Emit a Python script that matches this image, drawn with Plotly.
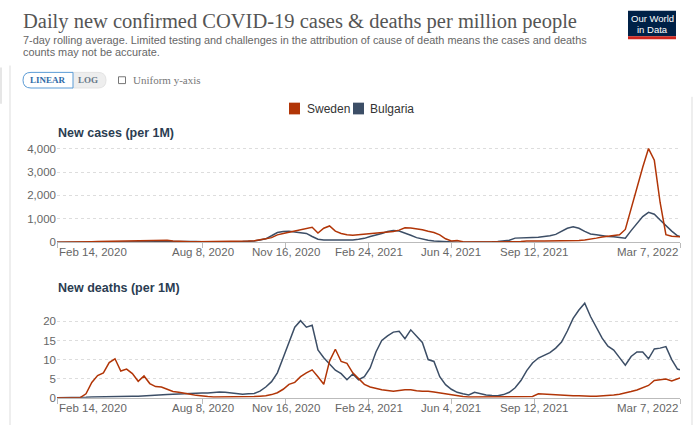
import pandas as pd
import plotly.graph_objects as go

# ---------------- data (weekly readings, Feb 14 2020 .. Mar 7 2022) ----------------
dates = list(pd.date_range("2020-02-14", periods=108, freq="7D").strftime("%Y-%m-%d")) + ["2022-03-07"]

cases_sweden = [
    0, 0, 0, 2, 10,
    20, 30, 40, 45, 50,
    55, 60, 60, 65, 75, 90, 100, 110, 105, 90,
    60, 40, 30, 25, 25, 25, 25, 25, 25, 25,
    30, 35, 45, 55, 70,
    100, 150, 200, 320, 380, 430, 480, 520, 580, 640,
    400, 600, 700, 480, 380, 320, 300, 320, 340, 370,
    390, 420, 440, 460, 520, 620, 610, 590, 540, 470,
    420, 320, 150, 60, 80,
    30, 15, 12, 10, 10, 12, 15, 20, 25, 30,
    35, 60, 70, 60, 55, 55, 55, 60, 60, 70,
    80, 100, 130, 180, 230, 260, 290, 320, 550, 1450,
    2400, 3200, 4000, 3500, 1700, 330, 260, 230, 240,
]
cases_bulgaria = [
    0, 0, 0, 0, 0,
    5, 8, 10, 12, 12, 12, 15, 15, 15, 15,
    15, 20, 25, 30, 35, 40, 45, 45, 40, 35,
    30, 25, 25, 25, 30, 30, 30, 35, 40, 60,
    100, 150, 280, 420, 460, 470, 440, 400, 380, 250,
    130, 100, 100, 80, 70, 70, 100, 130, 170, 250,
    300, 380, 460, 500, 480, 400, 300, 200, 130, 90,
    60, 40, 20, 10, 8, 6, 6, 8, 10, 15,
    25, 40, 60, 90, 180, 200, 190, 210, 220, 240,
    280, 340, 460, 600, 660, 600, 470, 360, 320, 280,
    250, 240, 200, 180, 500, 780, 1100, 1280, 1200, 950,
    700, 480, 280, 250,
]
deaths_sweden = [
    0, 0, 0, 0, 0,
    1.0, 4.0, 5.8, 6.5, 9.2, 10.2, 7.0, 7.5, 6.3, 4.3,
    5.7, 3.7, 2.9, 2.8, 2.2, 1.6, 1.4, 1.2, 0.9, 0.6,
    0.4, 0.3, 0.2, 0.2, 0.2, 0.2, 0.2, 0.2, 0.3, 0.3,
    0.4, 0.5, 0.8, 1.3, 2.2, 3.5, 4.0, 5.5, 6.5, 7.3,
    5.5, 3.5, 9.6, 12.7, 9.5, 9.0, 6.5, 5.0, 3.5, 2.8,
    2.4, 2.1, 1.9, 1.7, 1.9, 2.1, 2.1, 1.8, 1.7, 1.7,
    1.5, 1.25, 1.0, 0.8, 0.5, 0.3, 0.2, 0.2, 0.2, 0.15,
    0.15, 0.15, 0.2, 0.2, 0.2, 0.2, 0.25, 0.3, 1.0, 0.9,
    0.8, 0.7, 0.6, 0.5, 0.5, 0.5, 0.4, 0.4, 0.4, 0.45,
    0.5, 0.7, 0.9, 1.2, 1.6, 2.0, 2.6, 3.2, 4.5, 4.8,
    4.9, 4.4, 5.0, 5.2,
]
deaths_bulgaria = [
    0, 0, 0, 0, 0,
    0.1, 0.2, 0.25, 0.3, 0.3, 0.3, 0.35, 0.35, 0.4, 0.4,
    0.45, 0.5, 0.6, 0.7, 0.8, 0.9, 0.9, 1.0, 1.1, 1.2,
    1.25, 1.2, 1.3, 1.5, 1.4, 1.2, 1.0, 0.9, 1.0, 1.1,
    1.7, 2.8, 4.2, 6.5, 10.5, 14.5, 18.5, 20.2, 18.5, 19.0,
    12.5, 10.5, 8.8, 7.2, 6.3, 4.7, 6.2, 4.7, 5.5, 7.8,
    12.0, 15.0, 16.2, 17.2, 17.4, 15.5, 17.8, 16.0, 14.5, 10.0,
    9.5, 5.5, 3.4, 2.2, 1.4, 1.0, 0.7, 1.4, 1.0, 0.7,
    0.55, 0.5, 0.8, 1.4, 2.6, 4.5, 7.1, 9.1, 10.4, 11.0,
    11.8, 13.0, 14.6, 17.5, 20.8, 23.0, 24.8, 21.3, 18.6, 15.6,
    13.5, 12.5, 10.5, 8.5, 10.8, 12.0, 12.0, 10.2, 12.8, 13.0,
    13.4, 10.0, 7.5, 7.3,
]

x_tick_dates = ["2020-02-14", "2020-08-08", "2020-11-16", "2021-02-24",
                "2021-06-04", "2021-09-12", "2022-03-07"]
x_tick_labels = ["Feb 14, 2020", "Aug 8, 2020", "Nov 16, 2020", "Feb 24, 2021",
                 "Jun 4, 2021", "Sep 12, 2021", "Mar 7, 2022"]
cases_ticks = [0, 1000, 2000, 3000, 4000]
deaths_ticks = [0, 5, 10, 15, 20]

countries = ["Sweden", "Bulgaria"]
colors = {"Sweden": "#b13507", "Bulgaria": "#3c4e66"}

# ---------------- layout helpers ----------------
W, H = 700, 431
def px(x): return x / W
def py(y): return 1 - y / H

SANS = "Liberation Sans, Arial, sans-serif"
SERIF = "Liberation Serif, Times New Roman, serif"

fig = go.Figure()
series = {
    ("cases", "Sweden"): cases_sweden, ("cases", "Bulgaria"): cases_bulgaria,
    ("deaths", "Sweden"): deaths_sweden, ("deaths", "Bulgaria"): deaths_bulgaria,
}
for metric, xa, ya in [("cases", "x", "y"), ("deaths", "x2", "y2")]:
    for c in ["Bulgaria", "Sweden"]:
        fig.add_trace(go.Scatter(x=dates, y=series[(metric, c)], mode="lines",
                                 line=dict(color=colors[c], width=1.5),
                                 xaxis=xa, yaxis=ya, showlegend=False, name=c))

xdom = [px(57), px(680)]
common_x = dict(type="date", range=["2020-02-14", "2022-03-07"], domain=xdom,
                tickvals=x_tick_dates, showticklabels=False, ticks="outside",
                ticklen=5, tickcolor="#bbbbbb", showline=True, linecolor="#bbbbbb",
                linewidth=1, showgrid=False, zeroline=False)
common_y = dict(showgrid=True, gridcolor="#dddddd", griddash="3px,3px", gridwidth=1,
                zeroline=False, showline=False, ticks="",
                tickfont=dict(family=SANS, size=11.5, color="#666666"))

fig.update_layout(
    width=W, height=H, margin=dict(l=0, r=0, t=0, b=0),
    paper_bgcolor="white", plot_bgcolor="white", showlegend=False,
    xaxis=dict(common_x, anchor="y"),
    yaxis=dict(common_y, domain=[py(244), py(244 - 4100 * 0.024)], range=[0, 4100],
               tickvals=cases_ticks, ticktext=[f"{v:,}" for v in cases_ticks], anchor="x"),
    xaxis2=dict(common_x, anchor="y2"),
    yaxis2=dict(common_y, domain=[py(403), py(403 - 25.5 * 3.9)], range=[0, 25.5],
                tickvals=deaths_ticks, ticktext=[str(v) for v in deaths_ticks], anchor="x2"),
)

ann = []
# x tick labels
for xref, yl in [("x", 254), ("x2", 414)]:
    for i, (d, t) in enumerate(zip(x_tick_dates, x_tick_labels)):
        anchor = "left" if i == 0 else ("right" if i == len(x_tick_dates) - 1 else "center")
        ann.append(dict(x=d, y=py(yl), xref=xref, yref="paper", text=t, showarrow=False,
                        xanchor=anchor, yanchor="middle",
                        font=dict(family=SANS, size=11.5, color="#666666")))

# title & subtitle
ann.append(dict(x=px(21), y=py(18), xref="paper", yref="paper", xanchor="left", yanchor="middle",
                text="Daily new confirmed COVID-19 cases & deaths per million people", showarrow=False,
                font=dict(family=SERIF, size=20.5, color="#555555")))
ann.append(dict(x=px(21), y=py(37), xref="paper", yref="paper", xanchor="left", yanchor="middle",
                text="7-day rolling average. Limited testing and challenges in the attribution of cause of death means the cases and deaths",
                showarrow=False, font=dict(family=SANS, size=10.9, color="#666666")))
ann.append(dict(x=px(21), y=py(49), xref="paper", yref="paper", xanchor="left", yanchor="middle",
                text="counts may not be accurate.", showarrow=False,
                font=dict(family=SANS, size=10.9, color="#666666")))

# logo
ann.append(dict(x=px(652), y=py(15), xref="paper", yref="paper", xanchor="center", yanchor="middle",
                text="Our World", showarrow=False, font=dict(family=SANS, size=9.5, color="white")))
ann.append(dict(x=px(652), y=py(26), xref="paper", yref="paper", xanchor="center", yanchor="middle",
                text="in Data", showarrow=False, font=dict(family=SANS, size=9.5, color="white")))

# buttons
ann.append(dict(x=px(48), y=py(78), xref="paper", yref="paper", xanchor="center", yanchor="middle",
                text="<b>LINEAR</b>", showarrow=False, font=dict(family=SERIF, size=9, color="#2f6aa8")))
ann.append(dict(x=px(88), y=py(78), xref="paper", yref="paper", xanchor="center", yanchor="middle",
                text="<b>LOG</b>", showarrow=False, font=dict(family=SERIF, size=9, color="#667788")))
ann.append(dict(x=px(131), y=py(78), xref="paper", yref="paper", xanchor="left", yanchor="middle",
                text="Uniform y-axis", showarrow=False, font=dict(family=SERIF, size=11, color="#777777")))

# legend
leg = [("Sweden", 289, 305), ("Bulgaria", 353, 368)]
for name, sx, tx in leg:
    ann.append(dict(x=px(tx), y=py(107), xref="paper", yref="paper", xanchor="left", yanchor="middle",
                    text=name, showarrow=False, font=dict(family=SANS, size=12, color="#333333")))

# panel titles
ann.append(dict(x=px(56), y=py(132), xref="paper", yref="paper", xanchor="left", yanchor="middle",
                text="<b>New cases (per 1M)</b>", showarrow=False,
                font=dict(family=SANS, size=12.5, color="#2b3d52")))
ann.append(dict(x=px(56), y=py(291), xref="paper", yref="paper", xanchor="left", yanchor="middle",
                text="<b>New deaths (per 1M)</b>", showarrow=False,
                font=dict(family=SANS, size=12.5, color="#2b3d52")))

shapes = []
def rect(x0, y0, x1, y1, fill, line=None, lw=0):
    return dict(type="rect", xref="paper", yref="paper", x0=px(x0), x1=px(x1), y0=py(y1), y1=py(y0),
                fillcolor=fill, line=dict(color=line or fill, width=lw), layer="below")

def rounded(x0, y0, x1, y1, r, fill, line, lw, left=True, right=True):
    def P(x, y): return f"{px(x)},{py(y)}"
    d = ""
    d += f"M{P(x0 + r, y0)} " if left else f"M{P(x0, y0)} "
    if right:
        d += f"L{P(x1 - r, y0)} Q{P(x1, y0)} {P(x1, y0 + r)} L{P(x1, y1 - r)} Q{P(x1, y1)} {P(x1 - r, y1)} "
    else:
        d += f"L{P(x1, y0)} L{P(x1, y1)} "
    if left:
        d += f"L{P(x0 + r, y1)} Q{P(x0, y1)} {P(x0, y1 - r)} L{P(x0, y0 + r)} Q{P(x0, y0)} {P(x0 + r, y0)} Z"
    else:
        d += f"L{P(x0, y1)} Z"
    return dict(type="path", xref="paper", yref="paper", path=d, fillcolor=fill,
                line=dict(color=line, width=lw), layer="below")

# logo box
shapes.append(rect(628, 7, 676, 33, "#002147"))
shapes.append(rect(628, 33, 676, 36, "#ce261e"))
# buttons
shapes.append(rounded(72, 70, 106, 86, 8, "#eeeeee", "#e3e3e3", 1, left=False, right=True))
shapes.append(rounded(23, 70, 73, 86, 8, "white", "#5b9bd5", 1, left=True, right=False))
shapes.append(dict(type="rect", xref="paper", yref="paper", x0=px(118.5), x1=px(125.5),
                   y0=py(81.5), y1=py(74.5), fillcolor="white", line=dict(color="#777777", width=1)))
# legend squares
for name, sx, tx in leg:
    shapes.append(rect(sx, 101, sx + 11, 113, colors[name]))
# page borders
shapes.append(dict(type="line", xref="paper", yref="paper", x0=px(10), x1=px(10), y0=py(63), y1=0,
                   line=dict(color="#dddddd", width=1)))
shapes.append(dict(type="line", xref="paper", yref="paper", x0=px(692), x1=px(692), y0=py(95), y1=0,
                   line=dict(color="#dddddd", width=1)))
shapes.append(rect(0, 65, 2, 102, "#e6e6e6"))

fig.update_layout(annotations=ann, shapes=shapes)
fig.write_html("out.html", config={"displayModeBar": False},
               post_script="document.body.style.margin='0';document.body.style.overflow='hidden';")
